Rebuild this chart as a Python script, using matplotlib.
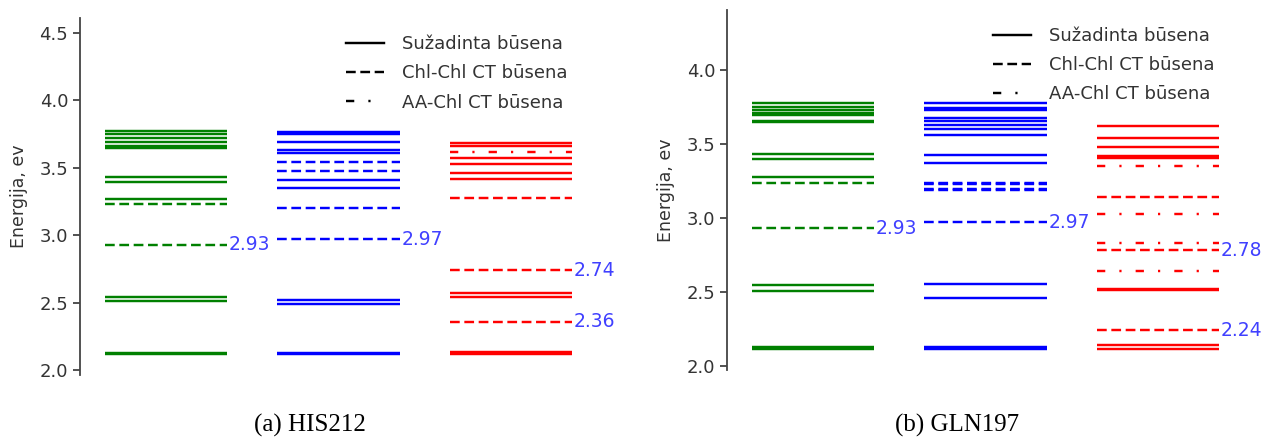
import numpy as np
import matplotlib
matplotlib.use("Agg")
from matplotlib import pyplot as plt
from matplotlib.lines import Line2D

# column order: green, blue, red
colors = ["green", "blue", "red"]

# (a) HIS212 energy levels, eV
a_solid = [
    [3.77, 3.75, 3.72, 3.69, 3.66, 3.645, 3.43, 3.395, 3.27, 2.54, 2.51, 2.13, 2.12],
    [3.765, 3.75, 3.69, 3.635, 3.61, 3.41, 3.35, 2.52, 2.49, 2.13, 2.12],
    [3.685, 3.665, 3.575, 3.525, 3.465, 3.415, 2.575, 2.54, 2.135, 2.12],
]
a_dashed = [
    [3.23, 2.93],
    [3.54, 3.48, 3.20, 2.97],
    [3.28, 2.74, 2.36],
]
a_dashdot = [[], [], [3.615]]
a_labels = [[2.93], [2.97], [2.74, 2.36]]

# (b) GLN197 energy levels, eV
b_solid = [
    [3.78, 3.755, 3.735, 3.715, 3.70, 3.66, 3.65, 3.435, 3.40, 3.28, 2.545, 2.505, 2.125, 2.115],
    [3.78, 3.745, 3.735, 3.68, 3.655, 3.63, 3.605, 3.565, 3.43, 3.37, 2.55, 2.46, 2.125, 2.115],
    [3.625, 3.54, 3.48, 3.42, 3.405, 2.52, 2.51, 2.14, 2.11],
]
b_dashed = [
    [3.24, 2.93],
    [3.24, 3.23, 3.20, 3.19, 2.97],
    [3.14, 2.78, 2.24],
]
b_dashdot = [[], [], [3.35, 3.03, 2.83, 2.64]]
b_labels = [[2.93], [2.97], [2.78, 2.24]]

legend_names = ["Sužadinta būsena", "Chl-Chl CT būsena", "AA-Chl CT būsena"]

LW = 1.75
DASH = (0, (4.0, 1.9))
DASHDOT = (0, (3.4, 5.8, 0.9, 5.8))
HALF = 0.355
TXT = "#333333"
LABEL_C = "#4040ff"


def draw_panel(ax, solid, dashed, dashdot, labels, ylim, yticks, leg_anchor):
    for i, c in enumerate(colors):
        ax.hlines(solid[i], i - HALF, i + HALF, colors=c, lw=LW, linestyles="solid")
        ax.hlines(dashed[i], i - HALF, i + HALF, colors=c, lw=LW, linestyles=[DASH])
        if dashdot[i]:
            ax.hlines(dashdot[i], i - HALF, i + HALF, colors=c, lw=LW, linestyles=[DASHDOT])
        for v in labels[i]:
            ax.text(i + HALF + 0.01, v, f"{v:.2f}", color=LABEL_C, fontsize=13.5,
                    va="center", ha="left")
    ax.set_xlim(-0.5, 2.5)
    ax.set_ylim(*ylim)
    ax.set_yticks(yticks)
    ax.set_xticks([])
    for s in ["top", "right", "bottom"]:
        ax.spines[s].set_visible(False)
    ax.spines["left"].set_color("#444444")
    ax.spines["left"].set_linewidth(1.3)
    ax.tick_params(axis="y", labelsize=13, colors=TXT, length=5, width=1.2)
    ax.set_ylabel("Energija, ev", fontsize=12.5, color=TXT, labelpad=8)
    handles = [Line2D([], [], color="black", lw=LW, ls="solid"),
               Line2D([], [], color="black", lw=LW, ls=DASH),
               Line2D([], [], color="black", lw=LW, ls=DASHDOT)]
    ax.legend(handles, legend_names, loc="upper left", bbox_to_anchor=leg_anchor,
              frameon=False, fontsize=13, labelcolor=TXT, handlelength=2.1,
              handletextpad=1.0, labelspacing=0.62, borderaxespad=0)


fig = plt.figure(figsize=(12.77, 4.38), dpi=100)
W, H = 1277.0, 438.0

ax1 = fig.add_axes([80 / W, 1 - 375 / H, 517 / W, 357 / H])
draw_panel(ax1, a_solid, a_dashed, a_dashdot, a_labels, (1.965, 4.61),
           [2.0, 2.5, 3.0, 3.5, 4.0, 4.5], (0.5, 0.972))

ax2 = fig.add_axes([727 / W, 1 - 370 / H, 517 / W, 360 / H])
draw_panel(ax2, b_solid, b_dashed, b_dashdot, b_labels, (1.97, 4.41),
           [2.0, 2.5, 3.0, 3.5, 4.0], (0.5, 0.973))

fig.text(310 / W, 1 - 425 / H, "(a) HIS212", ha="center", va="center",
         fontsize=18, family="Liberation Serif")
fig.text(957 / W, 1 - 425 / H, "(b) GLN197", ha="center", va="center",
         fontsize=18, family="Liberation Serif")

fig.savefig("out.png", dpi=100)
